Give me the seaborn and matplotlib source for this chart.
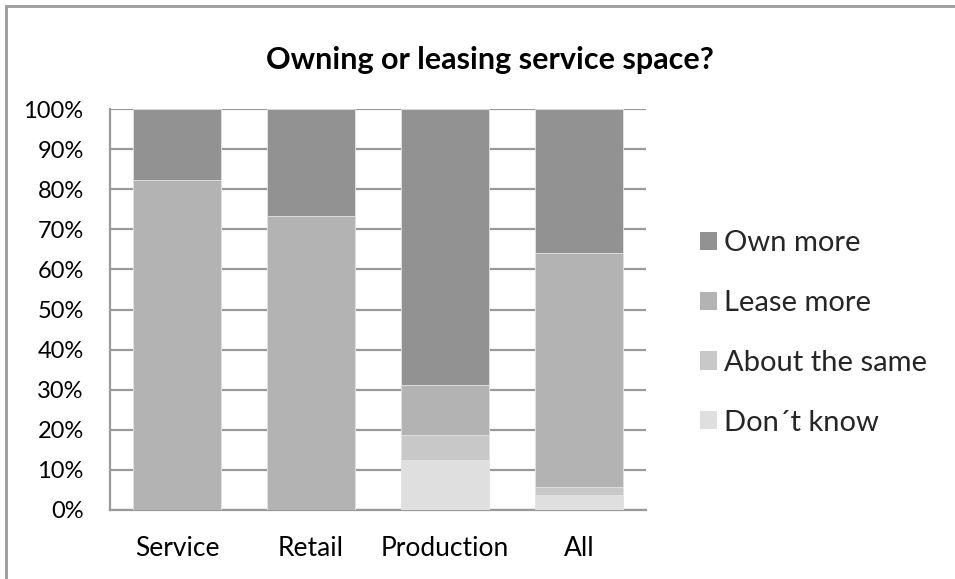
import numpy as np
import pandas as pd
import matplotlib
matplotlib.use("Agg")
import matplotlib.pyplot as plt
import seaborn as sns
from matplotlib.patches import Patch, Rectangle
from matplotlib.ticker import PercentFormatter

# Survey shares (%) per sector, bottom to top of each stack
categories = ["Service", "Retail", "Production", "All"]
dont_know = [0.0, 0.0, 12.5, 3.8]
about_same = [0.0, 0.0, 6.25, 1.9]
lease_more = [82.4, 73.3, 12.5, 58.5]
own_more = [17.6, 26.7, 68.75, 35.8]

series = ["Own more", "Lease more", "About the same", "Don\u00b4t know"]
colors = {"Own more": "#929292", "Lease more": "#b3b3b3",
          "About the same": "#c8c8c8", "Don\u00b4t know": "#dfdfdf"}

df = pd.DataFrame({"category": categories,
                   "Don\u00b4t know": dont_know,
                   "About the same": about_same,
                   "Lease more": lease_more,
                   "Own more": own_more})
stack_order = ["Don\u00b4t know", "About the same", "Lease more", "Own more"]
cum = df[stack_order].cumsum(axis=1)
cum["category"] = df["category"]

sns.set_theme(style="white")
plt.rcParams["font.family"] = ["Lato", "DejaVu Sans"]

fig = plt.figure(figsize=(9.55, 5.79), dpi=100)
ax = fig.add_axes([0.1152, 0.1192, 0.5613, 0.6925])

# Stacked bars: draw cumulative totals from the top segment downwards
for name in reversed(stack_order):
    sns.barplot(data=cum, x="category", y=name, order=categories,
                color=colors[name], width=0.65, saturation=1,
                edgecolor="#e4e4e4", linewidth=0.6, ax=ax, zorder=3)

ax.set_ylim(0, 100)
ax.set_xlim(-0.5, 3.5)
ax.set_yticks(np.arange(0, 101, 10))
ax.yaxis.set_major_formatter(PercentFormatter(decimals=0))
ax.grid(axis="y", color="#9a9a9a", linewidth=1.6, zorder=0)
ax.set_axisbelow(True)
for s in ["top", "right"]:
    ax.spines[s].set_visible(False)
for s in ["left", "bottom"]:
    ax.spines[s].set_color("#9a9a9a")
    ax.spines[s].set_linewidth(1.6)
ax.set_xlabel("")
ax.set_ylabel("")
ax.tick_params(axis="y", labelsize=17, length=0, pad=19, labelcolor="black")
ax.tick_params(axis="x", labelsize=19, length=0, pad=19, labelcolor="black")

fig.text(0.513, 0.896, "Owning or leasing service space?", ha="center",
         va="center", fontsize=22, fontweight="bold", color="black")

handles = [Patch(facecolor=colors[n], edgecolor="none") for n in series]
fig.legend(handles, series, loc="center left", bbox_to_anchor=(0.733, 0.425),
           frameon=False, fontsize=21, handlelength=0.58, handleheight=0.58,
           handletextpad=0.24, labelspacing=1.16, borderaxespad=0,
           borderpad=0)

# Chart frame
fig.patches.append(Rectangle((6 / 955, -0.1), 1.2, 1.1 - 6 / 579,
                             transform=fig.transFigure, fill=False,
                             edgecolor="#9a9a9a", linewidth=2.0))

fig.savefig("out.png", dpi=100)
